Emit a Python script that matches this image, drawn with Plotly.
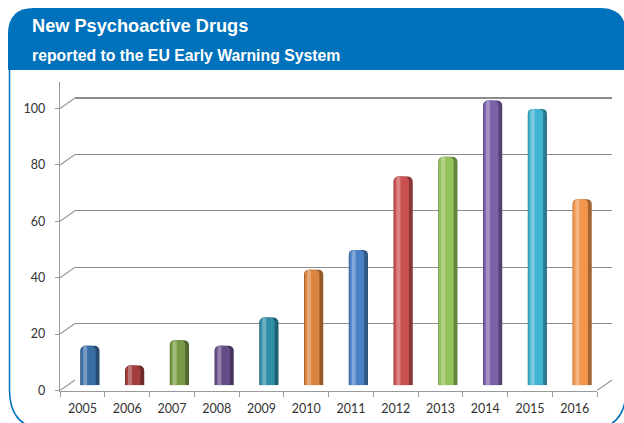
import plotly.graph_objects as go

# ---- data ----
years = ["2005", "2006", "2007", "2008", "2009", "2010",
         "2011", "2012", "2013", "2014", "2015", "2016"]
counts = [14, 7, 16, 14, 24, 41, 48, 74, 81, 101, 98, 66]
bar_colors = ["#3A6EA5", "#A23E3C", "#7A9A45", "#654E88", "#2F8EA6", "#D9843F",
              "#4A80C4", "#C9504E", "#93C15A", "#7C62AA", "#3FB3CF", "#F3954C"]
y_ticks = [0, 20, 40, 60, 80, 100]
title_main = "New Psychoactive Drugs"
title_sub = "reported to the EU Early Warning System"

W, H = 624, 423
FIG_H = 430
def X(px): return px / W
def Y(py): return 1 - py / H

def shade(hexc, f):
    hexc = hexc.lstrip("#")
    r, g, b = (int(hexc[i:i + 2], 16) for i in (0, 2, 4))
    if f < 1:
        r, g, b = (int(c * f) for c in (r, g, b))
    else:
        t = f - 1
        r, g, b = (int(c + (255 - c) * t) for c in (r, g, b))
    return "#%02x%02x%02x" % (r, g, b)

# pixel geometry
fx0, fx1 = 60, 597          # front x extent
fy_bot, fy_top = 390.5, 82  # front y extent
unit = 2.82                 # px per value
ymax = (fy_bot - fy_top) / unit
DX, DY = 15, 10.5           # depth offset (back wall)

def xdom(d): return [X(fx0 + d), X(fx1 + d)]
def ydom(d): return [Y(fy_bot - d), Y(fy_top - d)]

fig = go.Figure()

# back axes (x, y): grid only
fig.add_trace(go.Scatter(x=years, y=counts, mode="none", xaxis="x", yaxis="y",
                         hoverinfo="skip", showlegend=False))

# middle axes (x2, y2): cylinders
layers = [(-0.215, 0.43, 0.68), (-0.20, 0.33, 1.0), (-0.15, 0.09, 1.3)]
for off, wd, f in layers:
    fig.add_trace(go.Bar(
        x=years, y=counts, xaxis="x2", yaxis="y2",
        marker=dict(color=[shade(c, f) for c in bar_colors], line=dict(width=0)),
        width=wd, offset=off, showlegend=False, hoverinfo="skip"))

# front axes (x3, y3): labels and axis lines
fig.add_trace(go.Scatter(x=years, y=counts, mode="none", xaxis="x3", yaxis="y3",
                         hoverinfo="skip", showlegend=False))

axis_col = "#9a9a9a"
grid_col = "#8c8c8c"
tick_font = dict(family="Lato, Carlito, sans-serif", size=12.5, color="#333333")

fig.update_layout(
    width=W, height=FIG_H, margin=dict(l=0, r=0, t=0, b=0),
    paper_bgcolor="white", plot_bgcolor="rgba(0,0,0,0)",
    barmode="overlay", barcornerradius=5,
    xaxis=dict(domain=xdom(DX), range=[-0.5, 11.5], type="category",
               showgrid=False, showline=False, showticklabels=False, ticks="",
               zeroline=False, anchor="y"),
    yaxis=dict(domain=ydom(DY), range=[0, ymax], tickvals=y_ticks,
               showgrid=True, gridcolor=grid_col, gridwidth=1.2,
               showline=False, showticklabels=False, ticks="", zeroline=False,
               anchor="x"),
    xaxis2=dict(domain=xdom(DX / 2), range=[-0.5, 11.5], type="category",
                visible=False, anchor="y2"),
    yaxis2=dict(domain=ydom(DY / 2), range=[0, ymax], visible=False, anchor="x2"),
    xaxis3=dict(domain=xdom(0), range=[-0.5, 11.5], type="category",
                showgrid=False, showline=True, linecolor=axis_col, linewidth=1.2,
                ticks="outside", tickson="boundaries", ticklen=5, tickcolor=axis_col,
                tickfont=tick_font, ticklabelstandoff=6, zeroline=False, anchor="y3"),
    yaxis3=dict(domain=ydom(0), range=[0, ymax], tickvals=y_ticks,
                showgrid=False, showline=True, linecolor=axis_col, linewidth=1.2,
                ticks="outside", ticklen=4, tickcolor=axis_col,
                tickfont=tick_font, ticklabelstandoff=7, zeroline=False, anchor="x3"),
)

# depth connectors at each tick on the left wall, and right floor edge
shapes = []
for v in y_ticks:
    shapes.append(dict(type="line", xref="paper", yref="y3", ysizemode="pixel",
                       yanchor=v, x0=X(fx0), x1=X(fx0 + DX), y0=0, y1=DY,
                       line=dict(color=axis_col, width=1.2)))
shapes.append(dict(type="line", xref="paper", yref="y3", ysizemode="pixel",
                   yanchor=0, x0=X(fx1), x1=X(fx1 + DX), y0=0, y1=DY,
                   line=dict(color=axis_col, width=1.2)))

# header band and frame
blue = "#0071BB"
def P(px, py): return "%f,%f" % (X(px), Y(py))
header = ("M " + P(8, 70) + " L " + P(8, 34) + " Q " + P(8, 8) + " " + P(34, 8) +
          " L " + P(600, 8) + " Q " + P(626, 8) + " " + P(626, 34) +
          " L " + P(626, 70) + " Z")
frame = ("M " + P(9.5, 70) + " L " + P(9.5, 390) + " Q " + P(9.5, 430) + " " + P(50, 430) +
         " L " + P(586, 430) + " Q " + P(626, 430) + " " + P(626, 390) + " L " + P(626, 70))
shapes.append(dict(type="path", xref="paper", yref="paper", path=header,
                   fillcolor=blue, line=dict(width=0), layer="below"))
shapes.append(dict(type="path", xref="paper", yref="paper", path=frame,
                   line=dict(color=blue, width=1.5), layer="below"))
fig.update_layout(shapes=shapes)

fig.add_annotation(x=X(30), y=Y(26), xref="paper", yref="paper", text="<b>" + title_main + "</b>",
                   showarrow=False, xanchor="left", yanchor="middle",
                   font=dict(family="Liberation Sans, Arial, sans-serif", size=18.2, color="white"))
fig.add_annotation(x=X(30), y=Y(55.5), xref="paper", yref="paper", text="<b>" + title_sub + "</b>",
                   showarrow=False, xanchor="left", yanchor="middle",
                   font=dict(family="Liberation Sans, Arial, sans-serif", size=15.8, color="white"))

fig.write_html("out.html",
               config={"displayModeBar": False, "staticPlot": True},
               post_script=("document.body.style.margin='0';"
                            "document.body.style.overflow='hidden';"
                            "document.documentElement.style.overflow='hidden';"
                            "window.scrollTo(0,0);"))
